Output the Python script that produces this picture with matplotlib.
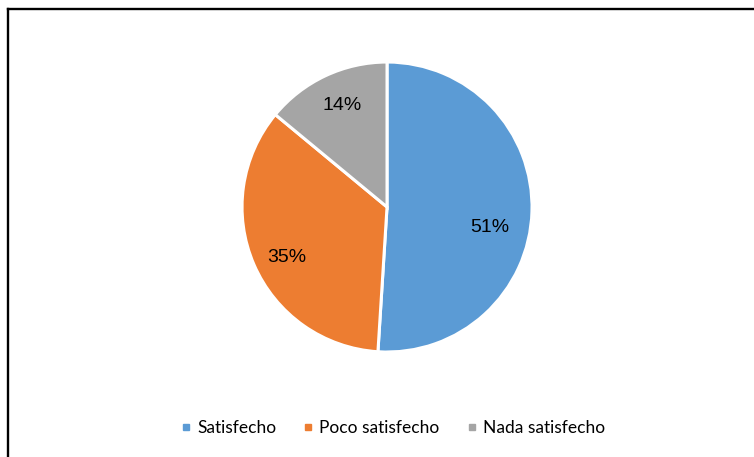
import numpy as np
import matplotlib
matplotlib.use("Agg")
import matplotlib.pyplot as plt
from matplotlib.lines import Line2D

categories = ["Satisfecho", "Poco satisfecho", "Nada satisfecho"]
values = [51, 35, 14]
colors = ["#5B9BD5", "#ED7D31", "#A5A5A5"]

# label placement (fraction of radius, angle in degrees)
label_pos = [(0.725, -11.5), (0.77, 206.6), (0.763, 114.0)]

fig = plt.figure(figsize=(7.54, 4.57), dpi=100)
ax = fig.add_axes([0.321, 0.2297, 0.3846, 0.6346])

wedges, texts, autotexts = ax.pie(
    values, colors=colors, startangle=90, counterclock=False,
    autopct="%d%%", wedgeprops=dict(edgecolor="white", linewidth=2.2),
    textprops=dict(fontsize=14, family="Liberation Sans", color="black"))
ax.set_xlim(-1, 1)
ax.set_ylim(-1, 1)
ax.set_aspect("equal")

for t, (r, ang) in zip(autotexts, label_pos):
    a = np.deg2rad(ang)
    t.set_position((r * np.cos(a), r * np.sin(a)))

handles = [Line2D([], [], marker="s", linestyle="none", markersize=4.5,
                  markerfacecolor=c, markeredgecolor=c) for c in colors]
fig.legend(handles, categories, loc="center", bbox_to_anchor=(0.521, 1 - 428 / 457),
           ncol=3, frameon=False, handlelength=0.6, handletextpad=0.35,
           columnspacing=1.55, prop=dict(family="Lato", size=12.5))

# chart border (top and left edges visible)
fig.add_artist(Line2D([7.5 / 754, 1], [1 - 8.5 / 457] * 2, color="black", lw=1.7,
                      transform=fig.transFigure))
fig.add_artist(Line2D([7.5 / 754] * 2, [0, 1 - 8.5 / 457], color="black", lw=1.7,
                      transform=fig.transFigure))

fig.savefig("out.png", dpi=100)
